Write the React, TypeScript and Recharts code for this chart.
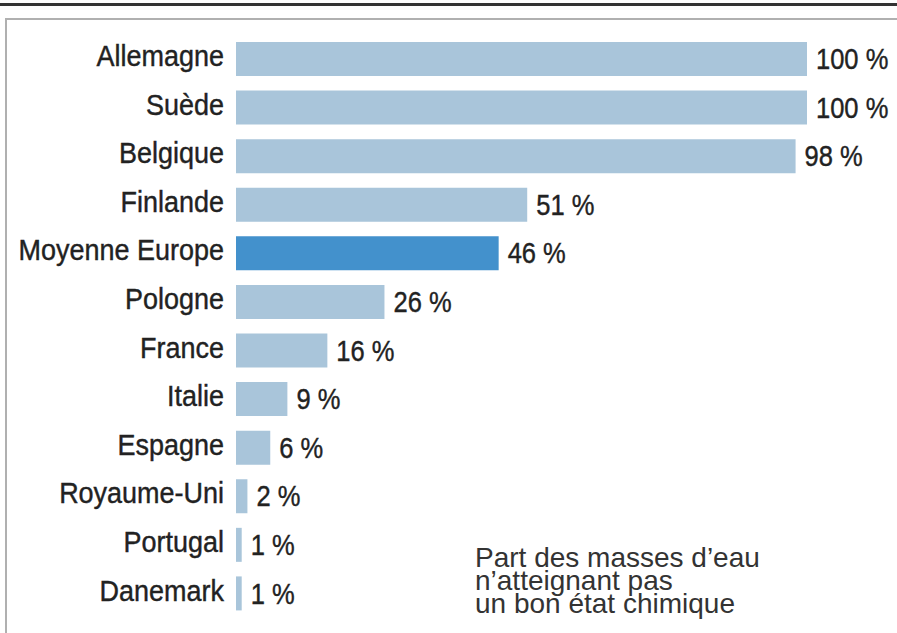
import React from "react";
import { BarChart, Bar, XAxis, YAxis, Cell, LabelList } from "recharts";

const countries = [
  "Allemagne",
  "Suède",
  "Belgique",
  "Finlande",
  "Moyenne Europe",
  "Pologne",
  "France",
  "Italie",
  "Espagne",
  "Royaume-Uni",
  "Portugal",
  "Danemark",
];
const shares = [100, 100, 98, 51, 46, 26, 16, 9, 6, 2, 1, 1];
const highlight = "Moyenne Europe";
const noteLines = [
  "Part des masses d\u2019eau",
  "n\u2019atteignant pas",
  "un bon état chimique",
];

const data = countries.map((c, i) => ({ name: c, value: shares[i] }));

const FONT = '"Liberation Sans", Arial, sans-serif';

const CategoryTick = (props: any) => {
  const { x, y, payload } = props;
  return (
    <g transform={`translate(${x},${y - 3}) scale(0.93,1)`}>
      <text
        x={0}
        y={0}
        textAnchor="end"
        dominantBaseline="central"
        fontFamily={FONT}
        fontSize={29}
        fill="#222"
        stroke="#222"
        strokeWidth={0.4}
      >
        {payload.value}
      </text>
    </g>
  );
};

const ValueLabel = (props: any) => {
  const { x, y, width, height, value } = props;
  return (
    <g transform={`translate(${x + width + 9},${y + height / 2}) scale(0.88,1)`}>
      <text
        x={0}
        y={0}
        textAnchor="start"
        dominantBaseline="central"
        fontFamily={FONT}
        fontSize={29}
        fill="#222"
        stroke="#222"
        strokeWidth={0.4}
      >
        {`${value} %`}
      </text>
    </g>
  );
};

export default function App() {
  return (
    <div style={{ position: "absolute", left: 0, top: 0, width: 897, height: 633, background: "#fff", overflow: "hidden" }}>
      <div style={{ position: "absolute", left: 0, top: 3, width: 897, height: 3, background: "#333" }} />
      <div
        style={{
          position: "absolute",
          left: 5,
          top: 18,
          width: 900,
          height: 700,
          borderLeft: "2px solid #b0b0b0",
          borderTop: "2px solid #b0b0b0",
          boxSizing: "border-box",
        }}
      />
      <div style={{ position: "absolute", left: 0, top: 0 }}>
        <BarChart
          width={897}
          height={633}
          data={data}
          layout="vertical"
          margin={{ top: 35, right: 90, bottom: 15, left: 0 }}
        >
          <XAxis type="number" domain={[0, 100]} hide />
          <YAxis
            type="category"
            dataKey="name"
            width={236}
            axisLine={false}
            tickLine={false}
            tickSize={0}
            tickMargin={12}
            tick={<CategoryTick />}
            interval={0}
          />
          <Bar dataKey="value" barSize={34} isAnimationActive={false}>
            {data.map((d) => (
              <Cell key={d.name} fill={d.name === highlight ? "#4391cc" : "#a9c5da"} />
            ))}
            <LabelList dataKey="value" content={<ValueLabel />} />
          </Bar>
        </BarChart>
      </div>
      <div
        style={{
          position: "absolute",
          left: 475,
          top: 546,
          fontFamily: '"Liberation Sans", Arial, sans-serif',
          fontSize: 28,
          lineHeight: "23px",
          color: "#333",
          whiteSpace: "nowrap",
        }}
      >
        {noteLines.map((l) => (
          <div key={l}>{l}</div>
        ))}
      </div>
    </div>
  );
}
